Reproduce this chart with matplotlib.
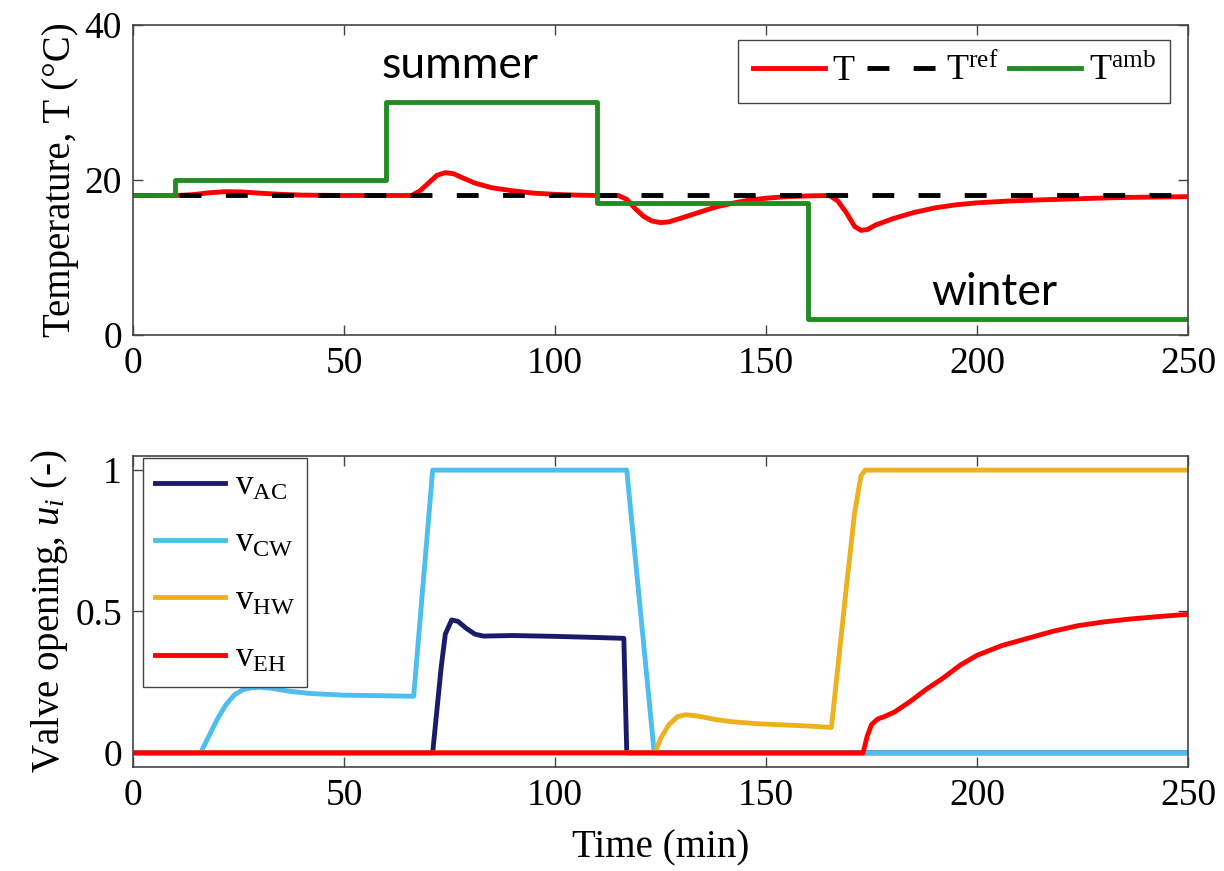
import numpy as np
import matplotlib.pyplot as plt

plt.rcParams['font.family'] = ['Liberation Serif', 'DejaVu Serif']
plt.rcParams['mathtext.fontset'] = 'custom'
plt.rcParams['mathtext.rm'] = 'Liberation Serif'
plt.rcParams['mathtext.it'] = 'Liberation Serif:italic'

# --- top panel: temperatures ---
t_T = [0, 10, 14, 18, 22, 26, 30, 35, 40, 50, 60, 66, 68, 70, 72, 74, 76, 78, 81, 85,
       90, 95, 100, 105, 110, 115, 117, 119, 121, 123, 125, 127, 130, 134, 138, 142,
       146, 150, 155, 160, 165, 167, 169, 171, 172.5, 174, 176, 180, 185, 190, 195,
       200, 208, 216, 225, 235, 250]
T = [18, 18, 18.1, 18.35, 18.5, 18.45, 18.3, 18.15, 18.05, 18.0, 18.0, 18.0, 18.6,
     19.6, 20.6, 20.95, 20.8, 20.3, 19.6, 19.0, 18.6, 18.3, 18.15, 18.05, 18.0, 18.0,
     17.5, 16.3, 15.3, 14.7, 14.5, 14.6, 15.1, 15.8, 16.5, 17.0, 17.4, 17.65, 17.85,
     17.95, 18.0, 17.3, 15.8, 14.0, 13.5, 13.6, 14.2, 15.0, 15.8, 16.4, 16.8, 17.05,
     17.3, 17.45, 17.6, 17.75, 17.85]
t_ref = [0, 250]
T_ref = [18, 18]
t_amb = [0, 10, 60, 110, 160, 250]
T_amb = [18, 20, 30, 17, 2, 2]

# --- bottom panel: valve openings ---
t_AC = [0, 71, 72, 73, 74, 75.5, 77, 79, 81, 83, 90, 100, 110, 116.3, 117, 250]
v_AC = [0, 0, 0.15, 0.3, 0.42, 0.47, 0.465, 0.44, 0.42, 0.413, 0.415, 0.412, 0.408,
        0.405, 0, 0]
t_CW = [0, 16, 18, 20, 22, 24, 26, 28, 30, 33, 37, 42, 50, 60, 66.5, 71, 117, 123.5, 250]
v_CW = [0, 0, 0.06, 0.12, 0.17, 0.205, 0.223, 0.23, 0.232, 0.228, 0.218, 0.21, 0.204,
        0.202, 0.2, 1.0, 1.0, 0, 0]
t_HW = [0, 123.7, 125, 127, 129, 131, 134, 138, 142, 148, 154, 160, 165.5, 167, 169,
        171, 172.5, 173.5, 250]
v_HW = [0, 0, 0.05, 0.1, 0.128, 0.135, 0.13, 0.118, 0.11, 0.103, 0.099, 0.095, 0.09,
        0.3, 0.58, 0.85, 0.98, 1.0, 1.0]
t_EH = [0, 173, 174, 175, 176.5, 178, 180.5, 184, 188, 192, 196, 200, 206, 212, 218,
        224, 230, 236, 243, 250]
v_EH = [0, 0, 0.06, 0.1, 0.12, 0.128, 0.145, 0.18, 0.225, 0.265, 0.31, 0.345, 0.38,
        0.405, 0.43, 0.45, 0.463, 0.473, 0.482, 0.49]

red = '#FF0000'
green = '#228B22'
navy = '#1B1B6E'
cyan = '#4DBEEE'
gold = '#EDB120'
lw = 3.5

fig = plt.figure(figsize=(12.24, 8.71), dpi=100)
ax1 = fig.add_axes([0.1087, 0.6154, 0.8619, 0.3559])
ax2 = fig.add_axes([0.1087, 0.1194, 0.8619, 0.3571])

ax1.plot(t_T, T, color=red, lw=lw, label=r'$\mathrm{T}$')
ax1.plot(t_ref, T_ref, color='black', lw=lw, ls=(0, (4.5, 5)), label=r'$\mathrm{T^{ref}}$')
ax1.plot(t_amb, T_amb, color=green, lw=lw, drawstyle='steps-post', label=r'$\mathrm{T^{amb}}$')
ax1.set_xlim(0, 250)
ax1.set_ylim(0, 40)
ax1.set_yticks([0, 20, 40])
ax1.set_xticks([0, 50, 100, 150, 200, 250])
ax1.set_ylabel('Temperature, T (°C)', fontsize=28)
ax1.text(77.5, 34.8, 'summer', family='Lato', fontsize=32, ha='center', va='center')
ax1.text(204, 5.5, 'winter', family='Lato', fontsize=32, ha='center', va='center')
ax1.legend(loc='upper right', bbox_to_anchor=(0.983, 0.952), ncol=3, fontsize=26,
           handlelength=2.0, columnspacing=0.3, handletextpad=0.2,
           borderpad=0.4, borderaxespad=0, fancybox=False, edgecolor='#444444',
           framealpha=1)

ax2.plot(t_AC, v_AC, color=navy, lw=lw, label=r'$\mathrm{v_{AC}}$')
ax2.plot(t_CW, v_CW, color=cyan, lw=lw, label=r'$\mathrm{v_{CW}}$')
ax2.plot(t_HW, v_HW, color=gold, lw=lw, label=r'$\mathrm{v_{HW}}$')
ax2.plot(t_EH, v_EH, color=red, lw=lw, label=r'$\mathrm{v_{EH}}$')
ax2.set_xlim(0, 250)
ax2.set_ylim(-0.05, 1.05)
ax2.set_yticks([0, 0.5, 1])
ax2.set_yticklabels(['0', '0.5', '1'])
ax2.set_xticks([0, 50, 100, 150, 200, 250])
ax2.set_ylabel(r'Valve opening, $u_i$ (-)', fontsize=28)
ax2.set_xlabel('Time (min)', fontsize=28, labelpad=12)
ax2.legend(loc='upper left', bbox_to_anchor=(0.0095, 0.994), fontsize=25,
           handlelength=2.0, handletextpad=0.3, labelspacing=0.7,
           borderpad=0.35, borderaxespad=0, fancybox=False, edgecolor='#444444',
           framealpha=1)

for ax in (ax1, ax2):
    ax.tick_params(direction='in', top=True, right=True, labelsize=27, length=7,
                   width=1, color='#444444', pad=8)
    for s in ax.spines.values():
        s.set_color('#444444')
        s.set_linewidth(1.2)

fig.savefig('out.png', dpi=100)
